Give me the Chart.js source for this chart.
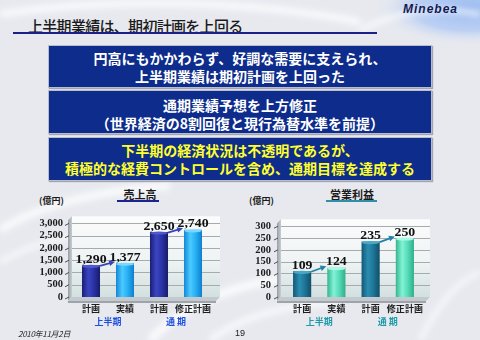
<!DOCTYPE html>
<html lang="ja">
<head>
<meta charset="utf-8">
<script src="https://cdn.jsdelivr.net/npm/chart.js@4.4.1/dist/chart.umd.min.js"></script>
<style>
html,body{margin:0;padding:0;}
body{width:480px;height:340px;overflow:hidden;position:relative;background:#e7e9ef;font-family:"Noto Sans CJK JP","Noto Sans",sans-serif;}
#bg{position:absolute;left:0;top:0;}
.title{position:absolute;left:28px;top:18px;font-size:15px;line-height:16px;letter-spacing:-0.7px;color:#1b1b1b;font-weight:500;white-space:nowrap;}
.rule{position:absolute;left:13px;top:32px;width:364px;height:2px;background:#1c1f86;}
.logo{position:absolute;left:403px;top:2px;font-family:"Liberation Sans",Arial,sans-serif;font-weight:700;font-style:italic;font-size:12px;letter-spacing:1px;color:#141a50;}
.box{position:absolute;left:48px;width:384px;background:#0d2c8c;border:1px solid #b8bccb;box-shadow:1px 1px 1px rgba(80,80,100,.45);color:#fff;font-weight:700;font-size:14px;line-height:18px;text-align:center;white-space:nowrap;box-sizing:border-box;}
.box.y{color:#ffff2e;}
.ctitle{position:absolute;font-weight:700;font-size:11px;line-height:12px;color:#1a1a1a;text-align:center;}
.cline{position:absolute;height:2px;}
.unit{position:absolute;font-weight:700;font-size:9px;line-height:10px;color:#1a1a1a;white-space:nowrap;}
.wrap{position:absolute;top:200px;width:240px;height:140px;}
.date{position:absolute;left:18px;top:329px;font-size:8px;line-height:10px;font-style:italic;letter-spacing:-0.3px;color:#222;}
.page{position:absolute;left:235px;top:328px;font-family:"Liberation Sans",Arial,sans-serif;font-size:9px;line-height:10px;color:#222;}
</style>
</head>
<body>
<svg id="bg" width="480" height="340" xmlns="http://www.w3.org/2000/svg">
  <defs>
    <filter id="soft"><feGaussianBlur stdDeviation="3"/></filter>
    <radialGradient id="corner" cx="470" cy="8" r="95" gradientUnits="userSpaceOnUse" gradientTransform="translate(470 8) scale(1 0.4) translate(-470 -8)">
      <stop offset="0" stop-color="#9cbcf0"/>
      <stop offset="0.6" stop-color="#bcd0f4"/>
      <stop offset="1" stop-color="#e7e9ef" stop-opacity="0"/>
    </radialGradient>
  </defs>
  <rect x="330" y="0" width="150" height="45" fill="url(#corner)"/>
  <g fill="none" stroke="#ffffff" filter="url(#soft)" opacity="0.85">
    <path d="M0 14 C120 -4 260 2 360 22" stroke-width="6"/>
    <path d="M360 30 C400 10 440 6 480 14" stroke-width="4"/>
    <path d="M0 230 C40 205 100 190 170 186" stroke-width="7"/>
    <path d="M0 262 C30 245 60 236 100 232" stroke-width="4"/>
    <path d="M150 340 C190 300 240 280 320 275" stroke-width="8"/>
    <path d="M210 340 C240 318 280 305 340 302" stroke-width="5"/>
    <path d="M420 340 C440 300 460 280 480 272" stroke-width="4"/>
  </g>
</svg>

<div class="logo">Minebea</div>
<div class="title">上半期業績は、期初計画を上回る</div>
<div class="rule"></div>

<div class="box" style="top:45px;height:43px;padding-top:3px;">円高にもかかわらず、好調な需要に支えられ、<br>上半期業績は期初計画を上回った</div>
<div class="box" style="top:90px;height:44px;padding-top:5px;">通期業績予想を上方修正<br>（世界経済の8割回復と現行為替水準を前提）</div>
<div class="box y" style="top:137px;height:44px;padding-top:3px;">下半期の経済状況は不透明であるが、<br>積極的な経費コントロールを含め、通期目標を達成する</div>

<div class="ctitle" style="left:110px;top:188px;width:60px;">売上高</div>
<div class="cline" style="left:117px;top:200px;width:42px;background:#1c2290;"></div>
<div class="unit" style="left:39px;top:196px;">(億円)</div>

<div class="ctitle" style="left:317px;top:188px;width:70px;">営業利益</div>
<div class="cline" style="left:326px;top:200px;width:51px;background:#2f8fa8;"></div>
<div class="unit" style="left:249px;top:196px;">(億円)</div>

<div class="wrap" style="left:0;"><canvas id="sales" width="240" height="140"></canvas></div>
<div class="wrap" style="left:240px;"><canvas id="profit" width="240" height="140"></canvas></div>

<div class="date">2010年11月2日</div>
<div class="page">19</div>

<script>
// Categories and values (億円)
const categories = ['計画', '実績', '計画', '修正計画'];
const periods = ['上半期', '通 期'];
const salesValues = [1290, 1377, 2650, 2740];
const profitValues = [109, 124, 235, 250];
const salesTicks = [0, 500, 1000, 1500, 2000, 2500, 3000];
const profitTicks = [0, 50, 100, 150, 200, 250, 300];

const BAR_PCT = 0.53;

function fmt(v) { return v.toLocaleString('en-US'); }

// Cylinder-like horizontal gradient for each bar
function barFill(stops) {
  return function (c) {
    const chart = c.chart;
    if (!chart.chartArea || c.dataIndex === undefined) return stops[1];
    const xs = chart.scales.x;
    const cx = xs.getPixelForValue(c.dataIndex);
    const half = (xs.width / categories.length) * BAR_PCT / 2;
    const g = chart.ctx.createLinearGradient(cx - half, 0, cx + half, 0);
    g.addColorStop(0, stops[0]);
    g.addColorStop(0.35, stops[1]);
    g.addColorStop(0.65, stops[2]);
    g.addColorStop(1, stops[3]);
    return g;
  };
}

function arrow(ctx, x1, y1, x2, y2, color) {
  const a = Math.atan2(y2 - y1, x2 - x1), h = 6.5;
  ctx.strokeStyle = color; ctx.fillStyle = color; ctx.lineWidth = 1.8;
  ctx.beginPath();
  ctx.moveTo(x1, y1);
  ctx.lineTo(x2 - h * 0.8 * Math.cos(a), y2 - h * 0.8 * Math.sin(a));
  ctx.stroke();
  ctx.beginPath();
  ctx.moveTo(x2, y2);
  ctx.lineTo(x2 - h * Math.cos(a - 0.45), y2 - h * Math.sin(a - 0.45));
  ctx.lineTo(x2 - h * Math.cos(a + 0.45), y2 - h * Math.sin(a + 0.45));
  ctx.closePath(); ctx.fill();
}

function makeChart(id, values, ticks, o) {
  // back wall, side wall, floor and grid
  const frame = {
    id: 'frame3d',
    beforeDraw(chart) {
      const { ctx, chartArea: a } = chart;
      const ax = a.left - o.gap, wr = a.right + o.back, T = a.top, B = a.bottom;
      ctx.save();
      let g = ctx.createLinearGradient(0, T, 0, B);
      g.addColorStop(0, '#fbfcfc'); g.addColorStop(0.55, '#eef3f3'); g.addColorStop(1, '#d3e0e0');
      ctx.fillStyle = g;
      ctx.fillRect(ax + 4, T - 1, wr - ax - 4, B - T + 1);
      g = ctx.createLinearGradient(ax, 0, ax + 4, 0);
      g.addColorStop(0, '#979ea5'); g.addColorStop(1, '#c9ced3');
      ctx.fillStyle = g;
      ctx.beginPath();
      ctx.moveTo(ax, T + 3); ctx.lineTo(ax + 4, T - 1); ctx.lineTo(ax + 4, B); ctx.lineTo(ax, B + 4);
      ctx.closePath(); ctx.fill();
      const ys = chart.scales.y;
      ctx.strokeStyle = '#a6abb0'; ctx.lineWidth = 1;
      ticks.forEach(v => {
        if (v === 0) return;
        const y = Math.round(ys.getPixelForValue(v)) + 0.5;
        ctx.beginPath(); ctx.moveTo(ax + 4, y); ctx.lineTo(wr, y); ctx.stroke();
      });
      ctx.strokeStyle = '#4a4f55';
      ticks.forEach(v => {
        const y = ys.getPixelForValue(v);
        ctx.beginPath(); ctx.moveTo(ax - 3, y + 2); ctx.lineTo(ax + 1, y); ctx.stroke();
      });
      ctx.fillStyle = '#c3c9ce';
      ctx.beginPath();
      ctx.moveTo(ax, B + 4); ctx.lineTo(wr - 4, B + 4); ctx.lineTo(wr, B); ctx.lineTo(ax + 4, B);
      ctx.closePath(); ctx.fill();
      ctx.fillStyle = '#9da4aa';
      ctx.fillRect(ax, B + 4, wr - 4 - ax, 2);
      ctx.restore();
    }
  };

  // value labels, caps and arrows
  const marks = {
    id: 'marks',
    afterDatasetsDraw(chart) {
      const ctx = chart.ctx;
      const bars = chart.getDatasetMeta(0).data;
      ctx.save();
      bars.forEach((b, i) => {
        ctx.fillStyle = o.caps[i % 2];
        ctx.beginPath();
        ctx.ellipse(b.x, b.y + 1, b.width / 2, 1.6, 0, 0, Math.PI * 2);
        ctx.fill();
      });
      for (let i = 0; i + 1 < bars.length; i += 2) {
        const p = bars[i], q = bars[i + 1];
        arrow(ctx, p.x + p.width / 2, p.y + 0.5, q.x - q.width / 2 - 1, q.y - 1.5, o.arrow);
      }
      ctx.fillStyle = '#111';
      ctx.font = 'bold 12px "Liberation Serif", "Times New Roman", serif';
      ctx.textAlign = 'center'; ctx.textBaseline = 'alphabetic';
      bars.forEach((b, i) => {
        ctx.save();
        ctx.translate(b.x, b.y - 2.5);
        ctx.scale(1.15, 1);
        ctx.fillText(fmt(values[i]), 0, 0);
        ctx.restore();
      });
      ctx.restore();
    },
    afterDraw(chart) {
      const ctx = chart.ctx, xs = chart.scales.x, B = chart.chartArea.bottom;
      ctx.save();
      ctx.fillStyle = o.period;
      ctx.font = 'bold 9px "Noto Sans CJK JP", sans-serif';
      ctx.textAlign = 'center'; ctx.textBaseline = 'middle';
      periods.forEach((t, k) => {
        const x = (xs.getPixelForValue(k * 2) + xs.getPixelForValue(k * 2 + 1)) / 2;
        ctx.fillText(t, x, B + 25);
      });
      ctx.restore();
    }
  };

  return new Chart(document.getElementById(id), {
    type: 'bar',
    data: {
      labels: categories,
      datasets: [{
        data: values,
        backgroundColor: c => barFill(o.fills[c.dataIndex % 2])(c),
        borderWidth: 0,
        barPercentage: BAR_PCT,
        categoryPercentage: 1
      }]
    },
    options: {
      responsive: false,
      animation: false,
      devicePixelRatio: 1,
      layout: { padding: { left: 0, right: o.padRight, top: 8, bottom: 0 } },
      plugins: { legend: { display: false }, tooltip: { enabled: false } },
      scales: {
        x: {
          grid: { display: false, drawTicks: false },
          border: { display: false },
          ticks: {
            color: '#1e1e1e', padding: 6, autoSkip: false, maxRotation: 0, minRotation: 0,
            font: { family: '"Noto Sans CJK JP", sans-serif', size: 9, weight: 'bold' }
          },
          afterFit(s) { s.height = 43; }
        },
        y: {
          min: 0, max: o.max,
          grid: { display: false, drawTicks: false },
          border: { display: false },
          afterBuildTicks(s) { s.ticks = ticks.map(v => ({ value: v })); },
          afterFit(s) { s.width = o.axisW; },
          ticks: {
            color: '#1a1a1a', padding: o.tickPad, autoSkip: false,
            font: { family: '"Liberation Serif", "Times New Roman", serif', size: 10.5, weight: 'bold' },
            callback: v => fmt(v)
          }
        }
      }
    },
    plugins: [frame, marks]
  });
}

makeChart('sales', salesValues, salesTicks, {
  max: 3250, axisW: 74, padRight: 30, tickPad: 11, gap: 6, back: 10,
  fills: [['#1a1e74', '#3b45c2', '#2a33a6', '#171b68'], ['#1286d6', '#4ccaff', '#26b0f4', '#0f7ecc']],
  caps: ['#5058d0', '#7ad8ff'],
  arrow: '#3a44b8', period: '#1f4fe0'
});

makeChart('profit', profitValues, profitTicks, {
  max: 325, axisW: 45, padRight: 58, tickPad: 14, gap: 8, back: 8,
  fills: [['#135874', '#2b8db2', '#1e7696', '#114e6a'], ['#33b58e', '#84f2d6', '#56dcb8', '#2fae8a']],
  caps: ['#48a8c8', '#a8f8e4'],
  arrow: '#2382aa', period: '#1f9aa8'
});
</script>
</body>
</html>
